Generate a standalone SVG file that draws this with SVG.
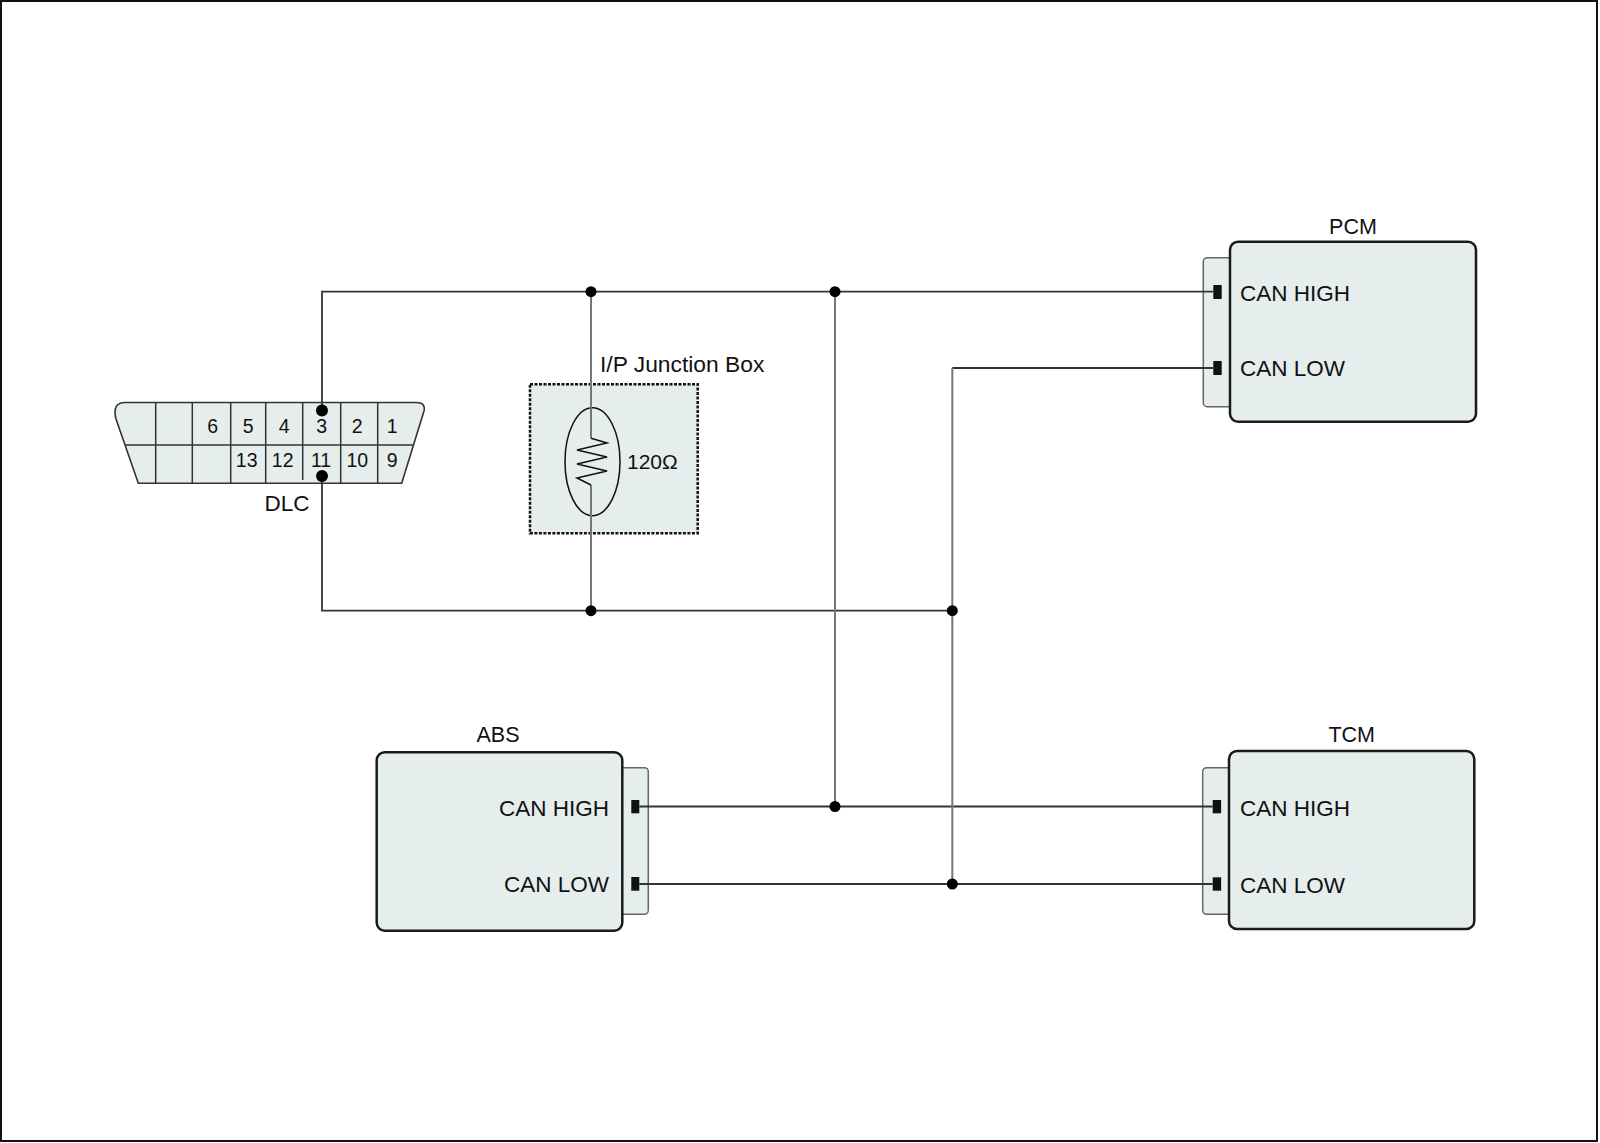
<svg xmlns="http://www.w3.org/2000/svg" width="1600" height="1143" viewBox="0 0 1600 1143">
<style>
text{font-family:"Liberation Sans",Arial,sans-serif;fill:#111}
.lbl{font-size:22.5px}
.ttl{font-size:21.5px}
.num{font-size:19.5px;text-anchor:middle}
.box{fill:#e6eded;stroke:#1a1a1a;stroke-width:2.5}
.tab{fill:#e6eded;stroke:#666;stroke-width:1.5}
.pin{fill:#111}
.h{stroke:#333;stroke-width:1.8;fill:none}
.v{stroke:#777;stroke-width:2;fill:none}
.dot{fill:#000}
.grid{stroke:#333;stroke-width:1.5;fill:none}
</style>
<rect x="0" y="0" width="1600" height="1143" fill="#fff"/>
<rect x="1" y="1" width="1596" height="1140" fill="none" stroke="#111" stroke-width="2"/>

<g id="dlc">
<path d="M125,402.5 L416,402.5 Q426,402.5 424,411 L401.7,483.3 L138.3,483.3 L116,419 Q112,402.5 125,402.5 Z" fill="#e6eded" stroke="#333" stroke-width="1.6"/>
<path class="grid" d="M125,445 L413,445 M155.7,402.5 V483.3 M192.3,402.5 V483.3 M230.7,402.5 V483.3 M265.7,402.5 V483.3 M302.7,402.5 V480 M340.7,402.5 V483.3 M377.7,402.5 V483.3"/>
<text class="num" x="212.7" y="433.3">6</text>
<text class="num" x="248.3" y="433.3">5</text>
<text class="num" x="284.3" y="433.3">4</text>
<text class="num" x="321.7" y="433.3">3</text>
<text class="num" x="357.3" y="433.3">2</text>
<text class="num" x="392.3" y="433.3">1</text>
<text class="num" x="246.7" y="467.3">13</text>
<text class="num" x="282.7" y="467.3">12</text>
<text class="num" x="321" y="467.3">11</text>
<text class="num" x="357.3" y="467.3">10</text>
<text class="num" x="392.3" y="467.3">9</text>
<text class="lbl" x="287" y="510.7" text-anchor="middle">DLC</text>
</g>

<g id="junction-box">
<rect x="530" y="384.3" width="167.7" height="149" fill="#e6eded" stroke="#111" stroke-width="2.5" stroke-dasharray="3 1.5"/>
<text x="600" y="372.3" font-size="22.8">I/P Junction Box</text>
<ellipse cx="592.5" cy="461.7" rx="27.5" ry="54" fill="none" stroke="#111" stroke-width="1.5"/>
<text x="627" y="469" font-size="21">120Ω</text>
</g>

<g id="pcm">
<rect class="tab" x="1203.3" y="257.7" width="30" height="149" rx="4"/>
<rect class="box" x="1230" y="241.7" width="246" height="180" rx="8"/>
<rect class="pin" x="1213.3" y="285" width="8.4" height="14"/>
<rect class="pin" x="1213.3" y="361" width="8.4" height="14"/>
<text class="ttl" x="1353" y="234" text-anchor="middle">PCM</text>
<text class="lbl" x="1240" y="301">CAN HIGH</text>
<text class="lbl" x="1240" y="375.7">CAN LOW</text>
</g>

<g id="abs">
<rect class="tab" x="618.3" y="767.7" width="30" height="146.6" rx="4"/>
<rect class="box" x="376.7" y="752.3" width="245.6" height="178.4" rx="8"/>
<rect class="pin" x="631.3" y="800" width="8" height="13.3"/>
<rect class="pin" x="631.3" y="877" width="8" height="13.7"/>
<text class="ttl" x="498" y="741.7" text-anchor="middle">ABS</text>
<text class="lbl" x="609" y="815.7" text-anchor="end">CAN HIGH</text>
<text class="lbl" x="609" y="892" text-anchor="end">CAN LOW</text>
</g>

<g id="tcm">
<rect class="tab" x="1202.7" y="767.7" width="30" height="146.6" rx="4"/>
<rect class="box" x="1229" y="751" width="245.3" height="178" rx="8"/>
<rect class="pin" x="1212.7" y="800" width="8.4" height="13.3"/>
<rect class="pin" x="1212.7" y="877.3" width="8.4" height="13.4"/>
<text class="ttl" x="1351.7" y="741.7" text-anchor="middle">TCM</text>
<text class="lbl" x="1240" y="815.7">CAN HIGH</text>
<text class="lbl" x="1240" y="892.7">CAN LOW</text>
</g>

<g id="connectors">
<path class="h" d="M322,410.5 V291.7 H1213.3"/>
<path class="h" d="M322,476 V610.7 H952.3"/>
<path class="h" d="M952.3,368 H1213.3"/>
<path class="h" d="M639.3,806.5 H1212.7"/>
<path class="h" d="M639.3,884 H1212.7"/>
<path class="v" d="M591,291.7 V438.3"/>
<path class="v" d="M591,485 V610.7"/>
<path fill="none" stroke="#111" stroke-width="1.5" d="M591,438.3 L607,443 L577,450 L607,457 L577,464 L607,471 L577,478 L591,485"/>
<path class="v" d="M835,291.7 V806.5"/>
<path class="v" d="M952.3,368 V884"/>
<circle class="dot" cx="322" cy="410.5" r="6"/>
<circle class="dot" cx="322" cy="476" r="6"/>
<circle class="dot" cx="591" cy="291.7" r="5.5"/>
<circle class="dot" cx="835" cy="291.7" r="5.5"/>
<circle class="dot" cx="591" cy="610.7" r="5.5"/>
<circle class="dot" cx="952.3" cy="610.7" r="5.5"/>
<circle class="dot" cx="835" cy="806.5" r="5.5"/>
<circle class="dot" cx="952.3" cy="884" r="5.5"/>
</g>
</svg>
